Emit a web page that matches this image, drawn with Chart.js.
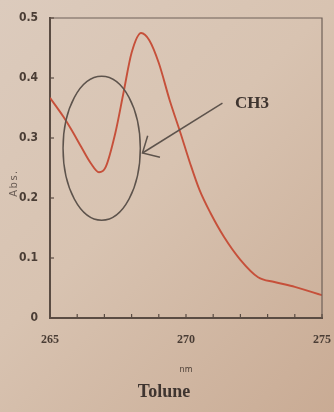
<!DOCTYPE html>
<html>
<head>
<meta charset="utf-8">
<script src="https://cdn.jsdelivr.net/npm/chart.js@4.4.0/dist/chart.umd.min.js"></script>
<style>
    html, body {
        margin: 0;
        padding: 0;
    }
    body {
        width: 334px;
        height: 412px;
        background: linear-gradient(135deg, #dccbbd 0%, #d8c3b1 45%, #c9ab94 100%);
        overflow: hidden;
    }
    canvas {
        display: block;
    }
</style>
</head>
<body>
<canvas id="spectrum" width="334" height="412"></canvas>
<script>
// Toluene spectrum
const wavelengths = [265, 265.5, 265.8, 266.15, 266.5, 266.8, 267.05, 267.4, 267.7, 268.0, 268.35, 268.65,
    269.0, 269.4, 269.8, 270.15, 270.5, 270.9, 271.4, 272.0, 272.65, 273.25, 274.0, 275];
const absorbance = [0.367, 0.335, 0.313, 0.285, 0.258, 0.243, 0.252, 0.308, 0.375, 0.442, 0.475, 0.463,
    0.425, 0.363, 0.308, 0.258, 0.213, 0.175, 0.135, 0.097, 0.068, 0.060, 0.052, 0.038];
const xLabels = [265, 270, 275];
const yTicks = [0, 0.1, 0.2, 0.3, 0.4, 0.5];

const axisColor = '#5a4c43';
const textColor = '#4a3d35';

// frame, inner ticks, y title and the circle + arrow pointing at the CH3 dip
const annotation = {
    id: 'ch3Note',
    afterDatasetsDraw(chart) {
        const { ctx, chartArea, scales: { x, y } } = chart;
        ctx.save();

        // top and right frame lines
        ctx.strokeStyle = '#6e6058';
        ctx.lineWidth = 1.2;
        ctx.beginPath();
        ctx.moveTo(chartArea.left, chartArea.top);
        ctx.lineTo(chartArea.right, chartArea.top);
        ctx.lineTo(chartArea.right, chartArea.bottom);
        ctx.stroke();

        // inner tick marks
        ctx.strokeStyle = axisColor;
        ctx.lineWidth = 1.2;
        x.ticks.forEach(t => {
            const px = x.getPixelForValue(t.value);
            ctx.beginPath();
            ctx.moveTo(px, chartArea.bottom);
            ctx.lineTo(px, chartArea.bottom - 4);
            ctx.stroke();
        });
        y.ticks.forEach(t => {
            const py = y.getPixelForValue(t.value);
            ctx.beginPath();
            ctx.moveTo(chartArea.left, py);
            ctx.lineTo(chartArea.left + 4, py);
            ctx.stroke();
        });

        // y axis title, a bit below the middle like the original
        ctx.save();
        ctx.translate(14, y.getPixelForValue(0.225));
        ctx.rotate(-Math.PI / 2);
        ctx.fillStyle = '#6a5d55';
        ctx.font = '10px "DejaVu Sans", sans-serif';
        ctx.letterSpacing = '1.5px';
        ctx.textAlign = 'center';
        ctx.textBaseline = 'middle';
        ctx.fillText('Abs.', 0, 0);
        ctx.restore();

        // ellipse round the dip
        const cx = x.getPixelForValue(266.9);
        const cy = y.getPixelForValue(0.283);
        const rx = x.getPixelForValue(266.9 + 1.42) - cx;
        const ry = cy - y.getPixelForValue(0.283 + 0.12);
        ctx.strokeStyle = '#5d534c';
        ctx.lineWidth = 1.5;
        ctx.beginPath();
        ctx.ellipse(cx, cy, rx, ry, 0, 0, Math.PI * 2);
        ctx.stroke();

        // arrow
        const sx = x.getPixelForValue(271.34), sy = y.getPixelForValue(0.358);
        const ex = x.getPixelForValue(268.4), ey = y.getPixelForValue(0.275);
        ctx.beginPath();
        ctx.moveTo(sx, sy);
        ctx.lineTo(ex, ey);
        ctx.stroke();
        const ang = Math.atan2(ey - sy, ex - sx);
        const len = 18;
        ctx.beginPath();
        ctx.moveTo(ex - len * Math.cos(ang - 0.72), ey - len * Math.sin(ang - 0.72));
        ctx.lineTo(ex, ey);
        ctx.lineTo(ex - len * Math.cos(ang + 0.8), ey - len * Math.sin(ang + 0.8));
        ctx.stroke();

        // label
        ctx.fillStyle = '#3f3530';
        ctx.font = 'bold 17px "Liberation Serif", serif';
        ctx.textAlign = 'center';
        ctx.textBaseline = 'middle';
        ctx.fillText('CH3', x.getPixelForValue(272.43), y.getPixelForValue(0.357));
        ctx.restore();
    }
};

const ctx = document.getElementById('spectrum').getContext('2d');
new Chart(ctx, {
    type: 'scatter',
    data: {
        datasets: [{
            data: wavelengths.map((w, i) => ({ x: w, y: absorbance[i] })),
            showLine: true,
            borderColor: '#c6503a',
            borderWidth: 1.9,
            pointRadius: 0,
            cubicInterpolationMode: 'monotone'
        }]
    },
    options: {
        responsive: false,
        animation: false,
        layout: {
            padding: { left: 6, right: 12, top: 18, bottom: 9 }
        },
        plugins: {
            legend: { display: false },
            tooltip: { enabled: false },
            title: {
                display: true,
                text: 'Tolune',
                position: 'bottom',
                color: '#3f3530',
                font: { family: '"Liberation Serif", serif', size: 18, weight: 'bold', lineHeight: 1.2 },
                padding: { top: 0, bottom: 0 }
            }
        },
        scales: {
            x: {
                type: 'linear',
                min: 265,
                max: 275,
                afterFit: scale => {
                    scale.height = 63.4;
                    scale.paddingLeft = 0;
                    scale.paddingRight = 0;
                },
                afterBuildTicks: scale => {
                    scale.ticks = [];
                    for (let v = 265; v <= 275; v++) scale.ticks.push({ value: v });
                },
                ticks: {
                    color: textColor,
                    padding: 15,
                    maxRotation: 0,
                    autoSkip: false,
                    font: { family: '"Liberation Serif", serif', size: 12, weight: 'bold' },
                    callback: v => xLabels.includes(v) ? String(v) : ''
                },
                grid: { drawOnChartArea: false, drawTicks: false },
                border: { color: axisColor, width: 2 },
                title: {
                    display: true,
                    text: 'nm',
                    color: textColor,
                    font: { family: '"DejaVu Sans", sans-serif', size: 8, lineHeight: 1.2 },
                    padding: { top: 0, bottom: 6.6 }
                }
            },
            y: {
                min: 0,
                max: 0.5,
                afterFit: scale => {
                    scale.width = 44;
                    scale.paddingTop = 0;
                    scale.paddingBottom = 0;
                },
                afterBuildTicks: scale => {
                    scale.ticks = yTicks.map(v => ({ value: v }));
                },
                ticks: {
                    color: textColor,
                    padding: 12,
                    font: { family: '"DejaVu Sans Condensed", "DejaVu Sans", sans-serif', size: 12, weight: 'bold' },
                    callback: v => v === 0 ? '0' : v.toFixed(1)
                },
                grid: { drawOnChartArea: false, drawTicks: false },
                border: { color: axisColor, width: 2 }
            }
        }
    },
    plugins: [annotation]
});
</script>
</body>
</html>
